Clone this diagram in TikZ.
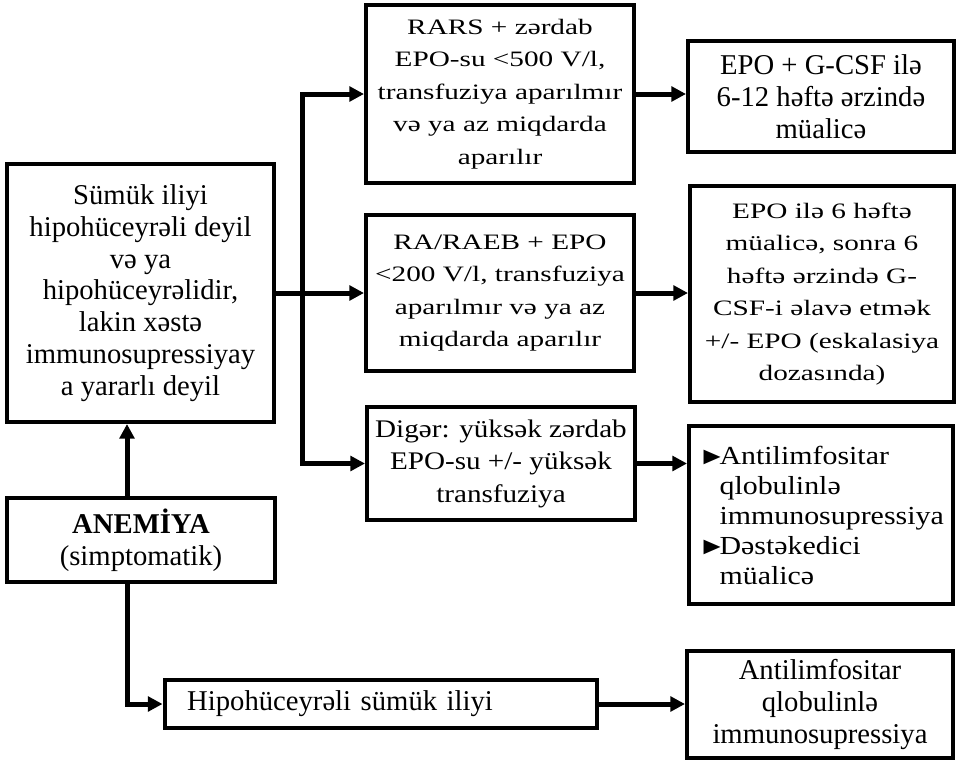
\documentclass[tikz,border=0pt]{standalone}
\usepackage{fontspec}
\setmainfont{Liberation Serif}
\newfontfamily\widefont{Liberation Serif}[FakeStretch=1.33]
\newfontfamily\midfont{Liberation Serif}[FakeStretch=1.15]
\usepackage{tikz}
\usetikzlibrary{arrows.meta, calc}

\newcommand{\bul}{\makebox[16pt][l]{\fontsize{18.5}{18}\selectfont ►}}
\newcommand{\nobul}{\hspace*{16pt}}

\begin{document}
\begin{tikzpicture}[x=0.75pt, y=-0.75pt,
  box/.style={draw, line width=3pt, align=center, inner sep=0pt},
  conn/.style={line width=3.75pt},
  >={Triangle[length=11pt, width=11pt]},
  font=\fontsize{21.5}{23.8}\selectfont]
\useasboundingbox (0,0) rectangle (957,760);

\node(sumuk)[box, minimum width=200pt, minimum height=193.5pt] at (140.5,293) {Sümük iliyi\\hipohüceyrəli deyil\\və ya\\hipohüceyrəlidir,\\lakin xəstə\\immunosupressiyay\\a yararlı deyil};
\node(anemia)[box, minimum width=201pt, minimum height=63pt] at (141,540) {\textbf{ANEMİYA}\\(simptomatik)};

\node(rars)[box, minimum width=201pt, minimum height=133.5pt, font=\widefont\fontsize{16.5}{24.4}\selectfont] at (500,94) {RARS + zərdab\\EPO-su <500 V/l,\\transfuziya aparılmır\\və ya az miqdarda\\aparılır};
\node(raeb)[box, minimum width=201pt, minimum height=117pt, font=\widefont\fontsize{16.5}{24.4}\selectfont] at (500,293) {RA/RAEB + EPO\\<200 V/l, transfuziya\\aparılmır və ya az\\miqdarda aparılır};
\node(diger)[box, minimum width=201pt, minimum height=85pt, font=\midfont\fontsize{19}{24.4}\selectfont] at (501,463.5) {Digər: yüksək zərdab\\EPO-su +/- yüksək\\transfuziya};

\node(epogcsf)[box, minimum width=199.5pt, minimum height=83pt] at (821,96.5) {EPO + G-CSF ilə\\6-12 həftə ərzində\\müalicə};
\node(epo6)[box, minimum width=198pt, minimum height=162pt, font=\widefont\fontsize{16.5}{24.4}\selectfont] at (822,294) {EPO ilə 6 həftə\\müalicə, sonra 6\\həftə ərzində G-\\CSF-i əlavə etmək\\+/- EPO (eskalasiya\\dozasında)};
\node(bullets)[box, minimum width=198pt, minimum height=133.5pt, align=left, font=\midfont\fontsize{19.5}{22.5}\selectfont] at (821,515) {\bul Antilimfositar\\\nobul qlobulinlə\\\nobul immunosupressiya\\\bul Dəstəkedici\\\nobul müalicə};

\node(hipo)[box, minimum height=36pt, text width=290pt, inner xsep=17pt, align=left] at (380.5,704) {Hipohüceyrəli sümük iliyi};
\node(final)[box, minimum width=199.5pt, minimum height=80pt] at (820,704.5) {Antilimfositar\\qlobulinlə\\immunosupressiya};

\coordinate(trunk) at (302,293);
\coordinate(stem) at (127,540);

\draw[conn, ->] (sumuk.east) -- (raeb.west);
\draw[conn, ->] (trunk) |- (rars.west);
\draw[conn, ->] (trunk) |- (diger.west);
\draw[conn, ->] (rars.east) -- (rars.east -| epogcsf.west);
\draw[conn, ->] (raeb.east) -- (raeb.east -| epo6.west);
\draw[conn, ->] (diger.east) -- (diger.east -| bullets.west);
\draw[conn, ->] (anemia.north -| stem) -- (sumuk.south -| stem);
\draw[conn, ->] (anemia.south -| stem) |- (hipo.west);
\draw[conn, ->] (hipo.east) -- (hipo.east -| final.west);
\end{tikzpicture}
\end{document}
